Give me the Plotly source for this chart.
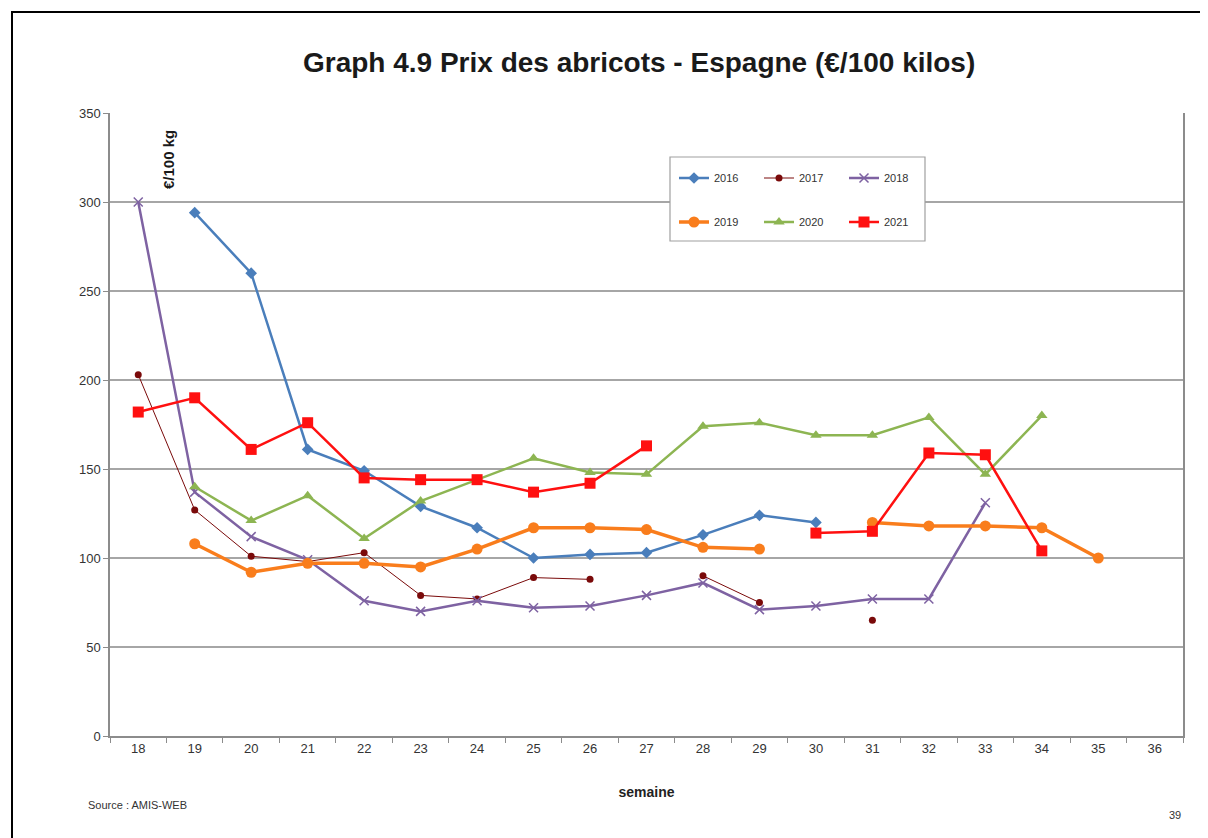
import plotly.graph_objects as go

weeks = [str(w) for w in range(18, 37)]

# values per week 18..36 (None = no data)
v2016 = [None, 294, 260, 161, 149, 129, 117, 100, 102, 103, 113, 124, 120, None, None, None, None, None, None]
v2017 = [203, 127, 101, 98, 103, 79, 77, 89, 88, None, 90, 75, None, 65, None, None, None, None, None]
v2018 = [300, 137, 112, 99, 76, 70, 76, 72, 73, 79, 86, 71, 73, 77, 77, 131, None, None, None]
v2019 = [None, 108, 92, 97, 97, 95, 105, 117, 117, 116, 106, 105, None, 120, 118, 118, 117, 100, None]
v2020 = [None, 140, 121, 135, 111, 132, 144, 156, 148, 147, 174, 176, 169, 169, 179, 147, 180, None, None]
v2021 = [182, 190, 161, 176, 145, 144, 144, 137, 142, 163, None, None, 114, 115, 159, 158, 104, None, None]

series = [
    ("2016", v2016, "#4A7EBB", 2.5, "diamond", 9, "legend"),
    ("2017", v2017, "#7A0A0A", 1, "circle", 7, "legend"),
    ("2018", v2018, "#7E62A2", 2.5, "x-thin-open", 9, "legend"),
    ("2019", v2019, "#F97D1C", 3.5, "circle", 11, "legend2"),
    ("2020", v2020, "#8DB552", 2.5, "triangle-up", 10, "legend2"),
    ("2021", v2021, "#FF1010", 2.5, "square", 11, "legend2"),
]

fig = go.Figure()
for name, vals, color, lw, sym, ms, leg in series:
    marker = dict(symbol=sym, size=ms, color=color)
    if sym == "x-thin-open":
        marker["line"] = dict(color=color, width=1.5)
    fig.add_trace(go.Scatter(
        x=weeks, y=vals, name=name, mode="lines+markers",
        line=dict(color=color, width=lw), marker=marker,
        connectgaps=False, legend=leg,
    ))

OFF = 8  # page body margin
W, H = 1208 - OFF, 838 - OFF
L, T = 110 - OFF, 113 - OFF
R = W - (1183 - OFF)
B = H - (736 - OFF)
pw, ph = W - L - R, H - T - B

def px(x):
    return (x - OFF - L) / pw

def py(y):
    return (H - B - (y - OFF)) / ph

font = "Liberation Sans, Arial, sans-serif"

leg_common = dict(orientation="h", xanchor="left", yanchor="middle",
                  bgcolor="rgba(0,0,0,0)", font=dict(size=11, color="#333"),
                  entrywidth=40, entrywidthmode="pixels", itemwidth=30)

fig.update_layout(
    width=W, height=H,
    margin=dict(l=L, r=R, t=T, b=B),
    paper_bgcolor="white", plot_bgcolor="white",
    font=dict(family=font, color="#222", size=12),
    showlegend=True,
    legend=dict(x=px(674), y=py(178), **leg_common),
    legend2=dict(x=px(674), y=py(222), **leg_common),
    xaxis=dict(type="category", categoryorder="array", categoryarray=weeks,
               range=[-0.5, 18.5], showgrid=False, showline=True, linecolor="#8c8c8c",
               linewidth=1.5, ticks="outside", tickson="boundaries", ticklen=5,
               tickcolor="#8c8c8c", tickfont=dict(size=13, color="#333"),
               title=dict(text="<b>semaine</b>", font=dict(size=14, color="#222"), standoff=32)),
    yaxis=dict(range=[0, 350], dtick=50, showgrid=True, gridcolor="#a6a6a6", gridwidth=1.5,
               showline=True, linecolor="#8c8c8c", linewidth=1.5, mirror=True,
               ticks="outside", ticklen=5, tickcolor="#8c8c8c", zeroline=False,
               tickfont=dict(size=13, color="#333")),
    shapes=[
        dict(type="rect", xref="paper", yref="paper", x0=px(670), x1=px(925),
             y0=py(241), y1=py(157), line=dict(color="#a0a0a0", width=1.2),
             fillcolor="white", layer="above"),
        dict(type="rect", xref="paper", yref="paper", x0=px(12), x1=px(1225),
             y0=py(850), y1=py(12), line=dict(color="black", width=2),
             fillcolor="rgba(0,0,0,0)", layer="above"),
    ],
    annotations=[
        dict(text="<b>Graph 4.9 Prix des abricots - Espagne (€/100 kilos)</b>", xref="paper",
             yref="paper", x=px(639), y=py(62), showarrow=False, xanchor="center",
             yanchor="middle", font=dict(size=28, color="#1a1a1a")),
        dict(text="<b>€/100 kg</b>", xref="paper", yref="paper", x=px(168), y=py(160),
             showarrow=False, textangle=-90, xanchor="center", yanchor="middle",
             font=dict(size=15, color="#1a1a1a")),
        dict(text="Source : AMIS-WEB", xref="paper", yref="paper", x=px(86), y=py(805),
             showarrow=False, xanchor="left", yanchor="middle",
             font=dict(size=11, color="#333")),
        dict(text="39", xref="paper", yref="paper", x=px(1175), y=py(815),
             showarrow=False, xanchor="center", yanchor="middle",
             font=dict(size=11, color="#333")),
    ],
)

fig.write_html("out.html")
